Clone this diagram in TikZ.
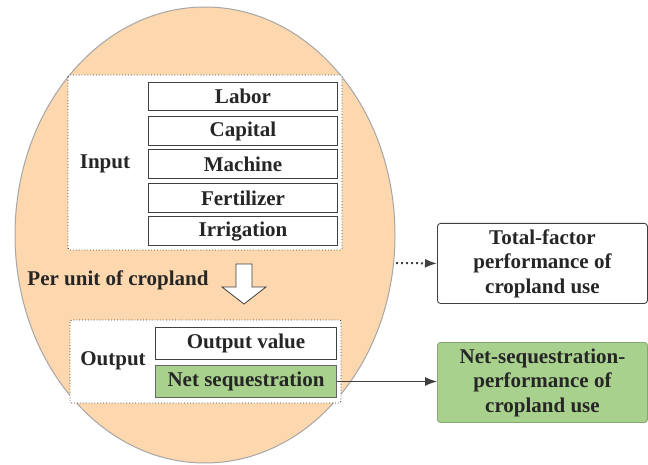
\documentclass[tikz,border=0pt]{standalone}
\usepackage{fontspec}
\setmainfont{Liberation Serif}
\usetikzlibrary{shapes.geometric,arrows.meta}
\definecolor{peach}{HTML}{FDD7AE}
\definecolor{rimgray}{HTML}{A6A6A6}
\definecolor{leaf}{HTML}{A9D18E}
\definecolor{ink}{HTML}{262626}
\definecolor{edge}{HTML}{404040}
\tikzset{
  txt/.style={font=\rmfamily\bfseries\fontsize{21}{24.5}\selectfont, text=ink},
  itembox/.style={txt, draw=edge, line width=1pt, fill=white, minimum width=189pt, minimum height=28.5pt, inner sep=0pt, anchor=north west},
  groupbox/.style={draw=edge, line width=0.9pt, dotted, fill=white, rounded corners=2pt},
  resultbox/.style={txt, draw=edge, line width=0.9pt, rounded corners=3pt, minimum width=210pt, minimum height=80pt, inner sep=0pt, anchor=north west, align=center},
  tip/.style={-{Latex[length=12pt,width=9pt]}, draw=edge, line width=1pt}
}
\begin{document}
\begin{tikzpicture}[x=1pt,y=-1pt]
\useasboundingbox (0,0) rectangle (648,465);
% the cropland-use ellipse
\node[ellipse, draw=rimgray, line width=1pt, fill=peach, minimum width=380pt, minimum height=456pt, inner sep=0pt] (ell) at (205,235) {};
% input group
\draw[groupbox] (68,75) rectangle (342,250);
\node[txt] (input) at (105,164) {Input};
\node[itembox] (labor) at (148,82) {Labor};
\node[itembox] (capital) at (148,116.5) {Capital};
\node[itembox] (machine) at (148,149.5) {Machine};
\node[itembox] (fert) at (148,183.5) {Fertilizer};
\node[itembox] (irr) at (148,216.5) {Irrigation};
% label and block arrow between the groups
\node[txt] (perunit) at (118,280) {Per unit of cropland};
\draw[draw=edge, line width=0.8pt, fill=white, line join=miter]
  (236,264) -- (252,264) -- (252,287) -- (266,287) -- (244,304) -- (222,287) -- (236,287) -- cycle;
% output group
\draw[groupbox] (70,320) rectangle (341,403);
\node[txt] (output) at (113,361) {Output};
\node[itembox, minimum width=181pt, minimum height=32pt] (outval) at (155,327) {Output value};
\node[itembox, minimum width=181pt, minimum height=32pt, fill=leaf, draw=edge!80] (netseq) at (155,365) {Net sequestration};
% performance measures
\node[resultbox, fill=white] (tfp) at (437,223) {Total-factor\\performance of\\cropland use};
\node[resultbox, fill=leaf, draw=leaf!80!black] (nsp) at (437,342) {Net-sequestration-\\performance of\\cropland use};
\coordinate (rim) at (396,263);
\draw[tip, line width=2pt, dash pattern=on 2pt off 3pt] (rim) -- (tfp.west);
\draw[tip] (netseq.east) -- (nsp.west |- netseq.east);
\end{tikzpicture}
\end{document}
